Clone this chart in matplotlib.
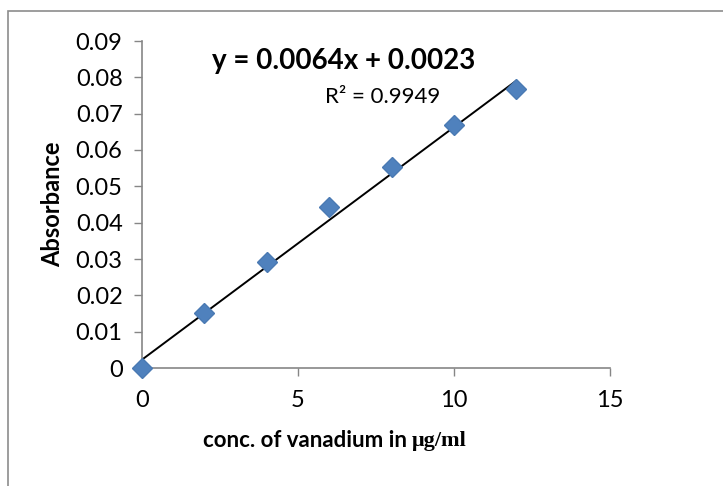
import numpy as np
import matplotlib
matplotlib.use("Agg")
import matplotlib.pyplot as plt
from matplotlib.patches import Rectangle

# calibration data
conc = [0, 2, 4, 6, 8, 10, 12]
absorbance = [0.0, 0.0151, 0.0292, 0.0443, 0.0553, 0.0669, 0.0768]
slope = 0.0064
intercept = 0.0023
x_ticks = [0, 5, 10, 15]
y_ticks = [0, 0.01, 0.02, 0.03, 0.04, 0.05, 0.06, 0.07, 0.08, 0.09]
y_labels = ["0", "0.01", "0.02", "0.03", "0.04", "0.05", "0.06", "0.07", "0.08", "0.09"]

plt.rcParams['font.family'] = ['Lato', 'DejaVu Sans']

fig = plt.figure(figsize=(7.23, 4.86), dpi=100)
fig.patches.append(Rectangle((8 / 723, -0.1), 1.2, (1 - 11 / 486) + 0.1,
                             transform=fig.transFigure, fill=False,
                             edgecolor='#8c8c8c', linewidth=1.2))
ax = fig.add_axes([142 / 723, 1 - 368 / 486, (610 - 142) / 723, (368 - 41) / 486])

ax.plot(conc, absorbance, linestyle='none', marker='D', markersize=10,
        color='#4f81bd', markeredgecolor='#4a7ab3', zorder=3, clip_on=False)
xs = np.array([conc[0], conc[-1]])
ax.plot(xs, slope * xs + intercept, color='black', linewidth=1.4, zorder=2)

ax.set_xlim(0, 15)
ax.set_ylim(0, 0.09)
ax.set_xticks(x_ticks)
ax.set_yticks(y_ticks)
ax.set_yticklabels(y_labels)
ax.tick_params(axis='both', direction='out', length=6, color='#868686',
               labelsize=17, width=1)
ax.tick_params(axis='x', pad=10)
ax.tick_params(axis='y', pad=8)
for s in ['top', 'right']:
    ax.spines[s].set_visible(False)
for s in ['left', 'bottom']:
    ax.spines[s].set_color('#868686')
    ax.spines[s].set_linewidth(1.2)

ax.set_ylabel("Absorbance", fontsize=17, fontweight='bold', labelpad=8)

t1 = fig.text(412 / 723, 1 - 447 / 486, "conc. of vanadium in ", fontsize=16,
              fontweight='bold', ha='right', va='baseline')
ax.annotate("μg/ml", xy=(1, 0), xycoords=t1, va='bottom', ha='left',
            fontsize=16, fontweight='bold', family='Liberation Serif')

ax.text(0.43, 0.94, "y = 0.0064x + 0.0023", transform=ax.transAxes,
        fontsize=20, fontweight='bold', ha='center', va='center')
ax.text(0.515, 0.83, "R² = 0.9949", transform=ax.transAxes,
        fontsize=16, ha='center', va='center')

fig.savefig("out.png", dpi=100)
